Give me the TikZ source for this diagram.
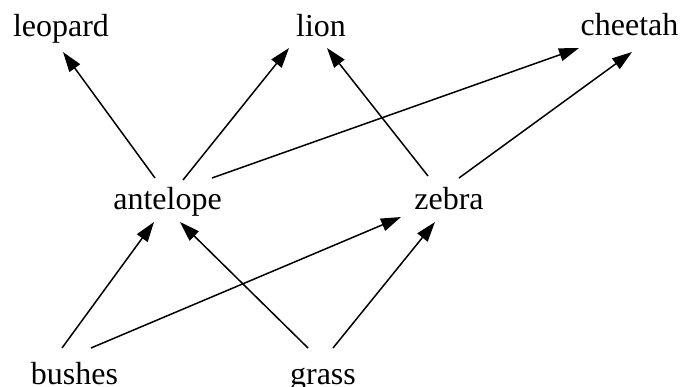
\documentclass[tikz,border=0pt]{standalone}
\usepackage{fontspec}
\setmainfont{Liberation Serif}
\usetikzlibrary{arrows.meta}
\begin{document}
\begin{tikzpicture}[x=1pt,y=-1pt,
  lbl/.style={anchor=base,inner sep=0pt,font=\fontsize{32}{38}\selectfont},
  edge/.style={line width=1.5pt,-{Triangle[length=20pt,width=13pt]}}]
\useasboundingbox (0,0) rectangle (684,387);
\node[lbl] (leopard) at (61,37) {leopard};
\node[lbl] (lion) at (321,37) {lion};
\node[lbl] (cheetah) at (629.5,36) {cheetah};
\node[lbl] (antelope) at (167.5,210) {antelope};
\node[lbl] (zebra) at (449,209) {zebra};
\node[lbl] (bushes) at (74.5,384) {bushes};
\node[lbl] (grass) at (323,384) {grass};
\draw[edge] ([shift={(-12.5,-32)}]antelope.base) -- ([shift={(2,15)}]leopard.base);
\draw[edge] ([shift={(15.5,-30)}]antelope.base) -- ([shift={(-32,11)}]lion.base);
\draw[edge] ([shift={(44.5,-32)}]antelope.base) -- ([shift={(-50.5,12)}]cheetah.base);
\draw[edge] ([shift={(-21,-33)}]zebra.base) -- ([shift={(6,11)}]lion.base);
\draw[edge] ([shift={(10,-31)}]zebra.base) -- ([shift={(2.5,16)}]cheetah.base);
\draw[edge] ([shift={(-12.5,-36)}]bushes.base) -- ([shift={(-13.5,12)}]antelope.base);
\draw[edge] ([shift={(16.5,-36)}]bushes.base) -- ([shift={(-48,8)}]zebra.base);
\draw[edge] ([shift={(-15,-36)}]grass.base) -- ([shift={(12.5,12)}]antelope.base);
\draw[edge] ([shift={(10,-36)}]grass.base) -- ([shift={(-14,13)}]zebra.base);
\end{tikzpicture}
\end{document}
